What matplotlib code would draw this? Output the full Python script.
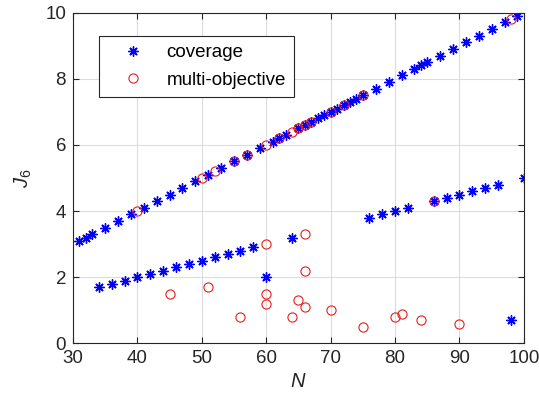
import matplotlib
matplotlib.use("Agg")
import matplotlib.pyplot as plt

plt.rcParams['font.family'] = ['Liberation Sans', 'DejaVu Sans']
plt.rcParams['mathtext.fontset'] = 'custom'
plt.rcParams['mathtext.it'] = 'Liberation Sans:italic'
plt.rcParams['mathtext.rm'] = 'Liberation Sans'

# coverage runs
cov_n = [31, 32, 33, 35, 37, 39, 41, 43, 45, 47, 49, 51, 53, 55, 57, 59, 61, 62,
         63, 65, 66, 67, 68, 69, 70, 71, 72, 73, 74, 75, 77, 79, 81, 83, 84, 85,
         87, 89, 91, 93, 95, 97, 99,
         34, 36, 38, 40, 42, 44, 46, 48, 50, 52, 54, 56, 58, 64,
         76, 78, 80, 82, 86, 88, 90, 92, 94, 96, 100,
         60, 98]
cov_j = [3.1, 3.2, 3.3, 3.5, 3.7, 3.9, 4.1, 4.3, 4.5, 4.7, 4.9, 5.1, 5.3, 5.5, 5.7, 5.9, 6.1, 6.2,
         6.3, 6.5, 6.6, 6.7, 6.8, 6.9, 7.0, 7.1, 7.2, 7.3, 7.4, 7.5, 7.7, 7.9, 8.1, 8.3, 8.4, 8.5,
         8.7, 8.9, 9.1, 9.3, 9.5, 9.7, 9.9,
         1.7, 1.8, 1.9, 2.0, 2.1, 2.2, 2.3, 2.4, 2.5, 2.6, 2.7, 2.8, 2.9, 3.2,
         3.8, 3.9, 4.0, 4.1, 4.3, 4.4, 4.5, 4.6, 4.7, 4.8, 5.0,
         2.0, 0.7]

# multi-objective runs
mo_n = [40, 50, 52, 55, 57, 60, 62, 64, 65, 66, 67, 70, 72, 75, 98,
        45, 51, 56, 60, 60, 60, 64, 65, 66, 66, 66, 70, 75, 80, 81, 84, 86, 90]
mo_j = [4.0, 5.0, 5.2, 5.5, 5.7, 6.0, 6.2, 6.4, 6.5, 6.6, 6.7, 7.0, 7.2, 7.5, 9.8,
        1.5, 1.7, 0.8, 3.0, 1.5, 1.2, 0.8, 1.3, 3.3, 2.2, 1.1, 1.0, 0.5, 0.8, 0.9, 0.7, 4.3, 0.6]

dark = '#262626'
fig = plt.figure(figsize=(5.39, 4.05), dpi=100)
ax = fig.add_axes([0.1354, 0.152, 0.8366, 0.817])

ax.plot(cov_n, cov_j, linestyle='none', marker=(8, 2, 0), color='b',
        markersize=7.2, markeredgewidth=1.0, label='coverage')
ax.plot(mo_n, mo_j, linestyle='none', marker='o', markerfacecolor='none',
        markeredgecolor='#e81e1e', markersize=6.6, markeredgewidth=0.8,
        label='multi-objective')

ax.set_xlim(30, 100)
ax.set_ylim(0, 10)
ax.set_xticks(range(30, 101, 10))
ax.set_yticks(range(0, 11, 2))
ax.grid(True, color='#dcdcdc', linewidth=0.8)
ax.set_axisbelow(True)
ax.tick_params(direction='in', top=True, right=True, length=4, width=0.8,
               colors=dark, labelsize=13.5, pad=5)
for s in ax.spines.values():
    s.set_color(dark)
    s.set_linewidth(0.8)

ax.set_xlabel(r'$N$', fontsize=14.5, color=dark, labelpad=3)
ax.set_ylabel(r'$J_6$', fontsize=14.5, color=dark, labelpad=8)

leg = ax.legend(loc='upper left', bbox_to_anchor=(0.058, 0.93), fontsize=13.5,
                fancybox=False, edgecolor=dark, framealpha=1, borderpad=0.45,
                handletextpad=0.45, labelspacing=0.55, handlelength=2.7,
                borderaxespad=0)
leg.get_frame().set_linewidth(0.8)

fig.savefig('out.png', dpi=100)
